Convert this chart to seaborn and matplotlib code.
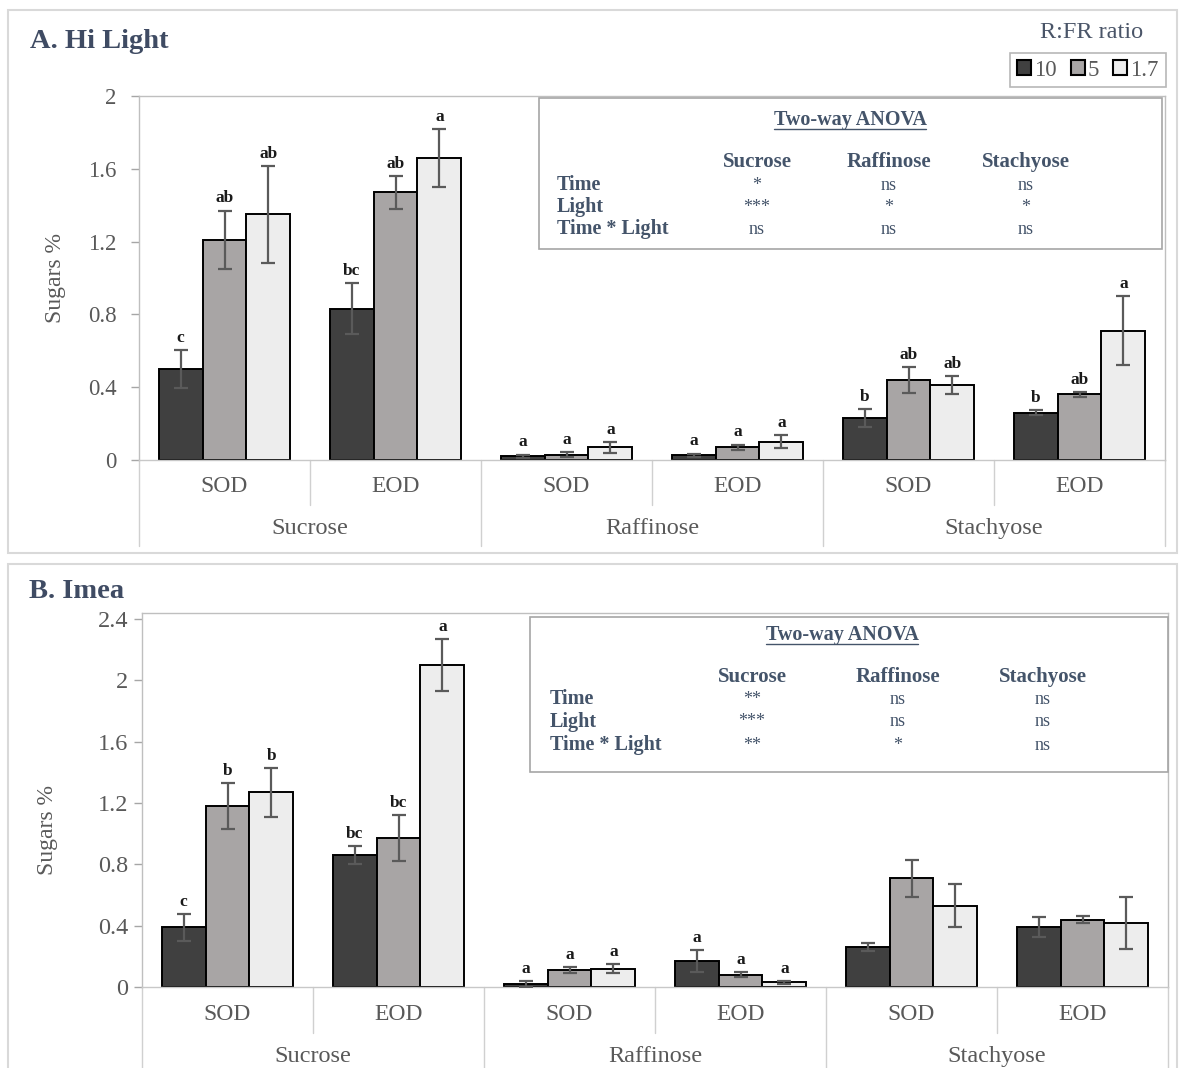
import numpy as np
import pandas as pd
import matplotlib
matplotlib.use("Agg")
import matplotlib.pyplot as plt
import matplotlib.transforms as mtransforms
from matplotlib.patches import Rectangle
from matplotlib.lines import Line2D
import seaborn as sns

# ---------------- data ----------------
clusters = ["Sucrose SOD", "Sucrose EOD", "Raffinose SOD", "Raffinose EOD",
            "Stachyose SOD", "Stachyose EOD"]
times = ["SOD", "EOD", "SOD", "EOD", "SOD", "EOD"]
sugars = ["Sucrose", "Raffinose", "Stachyose"]
ratios = ["10", "5", "1.7"]

# Panel A (Hi Light)
A_10 = [0.50, 0.83, 0.02, 0.025, 0.23, 0.26]
A_5 = [1.21, 1.47, 0.03, 0.07, 0.44, 0.36]
A_17 = [1.35, 1.66, 0.07, 0.10, 0.41, 0.71]
A_10_err = [0.105, 0.14, 0.01, 0.01, 0.05, 0.012]
A_5_err = [0.16, 0.09, 0.015, 0.015, 0.07, 0.015]
A_17_err = [0.265, 0.16, 0.03, 0.035, 0.05, 0.19]
A_10_let = ["c", "bc", "a", "a", "b", "b"]
A_5_let = ["ab", "ab", "a", "a", "ab", "ab"]
A_17_let = ["ab", "a", "a", "a", "ab", "a"]

# Panel B (Imea)
B_10 = [0.39, 0.86, 0.02, 0.17, 0.26, 0.39]
B_5 = [1.18, 0.97, 0.11, 0.08, 0.71, 0.44]
B_17 = [1.27, 2.10, 0.12, 0.03, 0.53, 0.42]
B_10_err = [0.088, 0.06, 0.02, 0.07, 0.025, 0.065]
B_5_err = [0.15, 0.15, 0.02, 0.015, 0.12, 0.025]
B_17_err = [0.16, 0.17, 0.03, 0.01, 0.14, 0.17]
B_10_let = ["c", "bc", "a", "a", "", ""]
B_5_let = ["b", "bc", "a", "a", "", ""]
B_17_let = ["b", "a", "a", "a", "", ""]

anova_cols = ["Sucrose", "Raffinose", "Stachyose"]
anova_rows = ["Time", "Light", "Time * Light"]
anova_A = [["*", "ns", "ns"], ["***", "*", "*"], ["ns", "ns", "ns"]]
anova_B = [["**", "ns", "ns"], ["***", "ns", "ns"], ["**", "*", "ns"]]

palette = {"10": "#404040", "5": "#A8A5A5", "1.7": "#EDEDED"}

# ---------------- style ----------------
sns.set_theme(style="white")
plt.rcParams["font.family"] = ["Liberation Serif", "DejaVu Serif"]

W, H = 1181, 1068
fig = plt.figure(figsize=(W / 100, H / 100), dpi=100)
fig.patch.set_facecolor("white")

TXT = "#595959"
NAVY = "#3F4B63"


def fx(px):
    return px / W


def fy(py):
    return 1 - py / H


def make_df(v10, v5, v17):
    rows = []
    for r, vals in zip(ratios, [v10, v5, v17]):
        for c, v in zip(clusters, vals):
            rows.append({"cluster": c, "ratio": r, "value": v})
    return pd.DataFrame(rows)


def draw_panel(ax, vals, errs, lets, ymax, yticks, ticklabels, tick_fs, pad):
    df = make_df(*vals)
    sns.barplot(data=df, x="cluster", y="value", hue="ratio", order=clusters,
                hue_order=ratios, palette=palette, width=0.77, gap=0,
                edgecolor="black", linewidth=1.4, errorbar=None, ax=ax,
                saturation=1)
    for cont, e_list, l_list in zip(ax.containers, errs, lets):
        for bar, e, l in zip(cont, e_list, l_list):
            xc = bar.get_x() + bar.get_width() / 2
            h = bar.get_height()
            ax.errorbar(xc, h, yerr=e, color="#5A5A5A", lw=1.6, capsize=5,
                        capthick=1.6, zorder=5)
            if l:
                ax.annotate(l, (xc, h + e), xytext=(0, 3),
                            textcoords="offset points", ha="center",
                            va="bottom", fontsize=12.5, fontweight="bold",
                            color="#1a1a1a")
    ax.set_xlim(-0.5, 5.5)
    ax.set_ylim(0, ymax)
    ax.set_yticks(yticks)
    ax.set_yticklabels(ticklabels)
    ax.tick_params(axis="y", left=True, length=6, width=1, color="#A6A6A6",
                   labelsize=tick_fs, labelcolor=TXT, pad=pad)
    ax.tick_params(axis="x", bottom=False, labelbottom=False)
    ax.set_xlabel("")
    for s in ax.spines.values():
        s.set_color("#BFBFBF")
        s.set_linewidth(1.0)
    ax.spines["bottom"].set_color("#C8C8C8")
    # multi-level category axis
    tr = mtransforms.blended_transform_factory(ax.transData, ax.transAxes)
    for i, t in enumerate(times):
        ax.text(i, -0.074, t, transform=tr, ha="center", va="center",
                fontsize=17, color=TXT)
    for j, s in enumerate(sugars):
        ax.text(2 * j + 0.5, -0.187, s, transform=tr, ha="center",
                va="center", fontsize=17.5, color=TXT)
    for xb in [-0.5, 1.5, 3.5, 5.5]:
        ax.add_line(Line2D([xb, xb], [0, -0.235], transform=tr,
                           color="#D0D0D0", lw=1.0, clip_on=False))
    for xb in [0.5, 2.5, 4.5]:
        ax.add_line(Line2D([xb, xb], [0, -0.124], transform=tr,
                           color="#D0D0D0", lw=1.0, clip_on=False))


# ---------------- panel frames ----------------
fig.add_artist(Rectangle((fx(8), fy(553)), fx(1177) - fx(8), fy(10) - fy(553),
                         transform=fig.transFigure, fill=False,
                         edgecolor="#D9D9D9", lw=1.5))
fig.add_artist(Rectangle((fx(8), fy(1075)), fx(1177) - fx(8), fy(564) - fy(1075),
                         transform=fig.transFigure, fill=False,
                         edgecolor="#D9D9D9", lw=1.5))

# ---------------- Panel A ----------------
axA = fig.add_axes([fx(139), fy(460), fx(1165) - fx(139), fy(96) - fy(460)])
draw_panel(axA, [A_10, A_5, A_17], [A_10_err, A_5_err, A_17_err],
           [A_10_let, A_5_let, A_17_let], 2.0,
           [0, 0.4, 0.8, 1.2, 1.6, 2.0], ["0", "0.4", "0.8", "1.2", "1.6", "2"],
           16.5, 10)
axA.set_ylabel("Sugars %", fontsize=17, color=TXT)
axA.yaxis.set_label_coords(-0.071, 0.5)
handles, labels = axA.get_legend_handles_labels()
if axA.legend_ is not None:
    axA.legend_.remove()

# ---------------- Panel B ----------------
axB = fig.add_axes([fx(142), fy(987), fx(1168) - fx(142), fy(613) - fy(987)])
draw_panel(axB, [B_10, B_5, B_17], [B_10_err, B_5_err, B_17_err],
           [B_10_let, B_5_let, B_17_let], 2.44,
           [0, 0.4, 0.8, 1.2, 1.6, 2.0, 2.4],
           ["0", "0.4", "0.8", "1.2", "1.6", "2", "2.4"], 17.5, 4)
axB.set_ylabel("Sugars %", fontsize=17, color=TXT)
axB.yaxis.set_label_coords(-0.082, 0.42)
if axB.legend_ is not None:
    axB.legend_.remove()

# ---------------- titles ----------------
fig.text(fx(30), fy(42), "A. Hi Light", fontsize=20.5, fontweight="bold",
         color=NAVY, ha="left", va="center")
fig.text(fx(29), fy(592), "B. Imea", fontsize=20.5, fontweight="bold",
         color=NAVY, ha="left", va="center")

# ---------------- legend ----------------
fig.text(fx(1092), fy(33), "R:FR ratio", fontsize=17.5, color="#4A5568",
         ha="center", va="center")
leg = fig.legend(handles, labels, loc="center",
                 bbox_to_anchor=((fx(1008) + fx(1168)) / 2, (fy(52) + fy(88)) / 2),
                 ncol=3, fontsize=16.5, frameon=True, fancybox=False,
                 edgecolor="#A6A6A6", handlelength=0.6, handleheight=0.6,
                 handletextpad=0.15, columnspacing=0.6, borderpad=0.3,
                 labelcolor="#595959")
leg.get_frame().set_linewidth(1.2)
for p in leg.get_patches():
    p.set_linewidth(1.5)
    p.set_edgecolor("black")


# ---------------- ANOVA boxes ----------------
def anova_box(x0, y0, x1, y1, title_xy, col_x, head_y, row_y, label_x, table):
    fig.add_artist(Rectangle((fx(x0), fy(y1)), fx(x1) - fx(x0), fy(y0) - fy(y1),
                             transform=fig.transFigure, fill=False,
                             edgecolor="#A6A6A6", lw=1.2))
    t = fig.text(fx(title_xy[0]), fy(title_xy[1]), "Two-way ANOVA",
                 fontsize=14.5, fontweight="bold", color="#44546A",
                 ha="center", va="center")
    for c, cx in zip(anova_cols, col_x):
        fig.text(fx(cx), fy(head_y), c, fontsize=15, fontweight="bold",
                 color="#44546A", ha="center", va="center")
    for r, ry, vals in zip(anova_rows, row_y, table):
        fig.text(fx(label_x), fy(ry), r, fontsize=14.5, fontweight="bold",
                 color="#44546A", ha="left", va="center")
        for v, cx in zip(vals, col_x):
            fig.text(fx(cx), fy(ry), v, fontsize=13, color="#44546A",
                     ha="center", va="center")
    return t


tA = anova_box(539, 98, 1162, 249, (850, 120), [757, 889, 1026], 162,
               [185, 207, 229], 557, anova_A)
tB = anova_box(530, 617, 1168, 772, (842, 635), [752, 898, 1043], 677,
               [699, 722, 745], 550, anova_B)

fig.canvas.draw()
inv = fig.transFigure.inverted()
for t in [tA, tB]:
    bb = t.get_window_extent()
    (xa, ya), (xb, yb) = inv.transform([[bb.x0, bb.y0], [bb.x1, bb.y1]])
    fig.add_artist(Line2D([xa, xb], [ya + 0.001, ya + 0.001],
                          transform=fig.transFigure, color="#44546A", lw=1.0))

fig.savefig("out.png", dpi=100, facecolor="white")
